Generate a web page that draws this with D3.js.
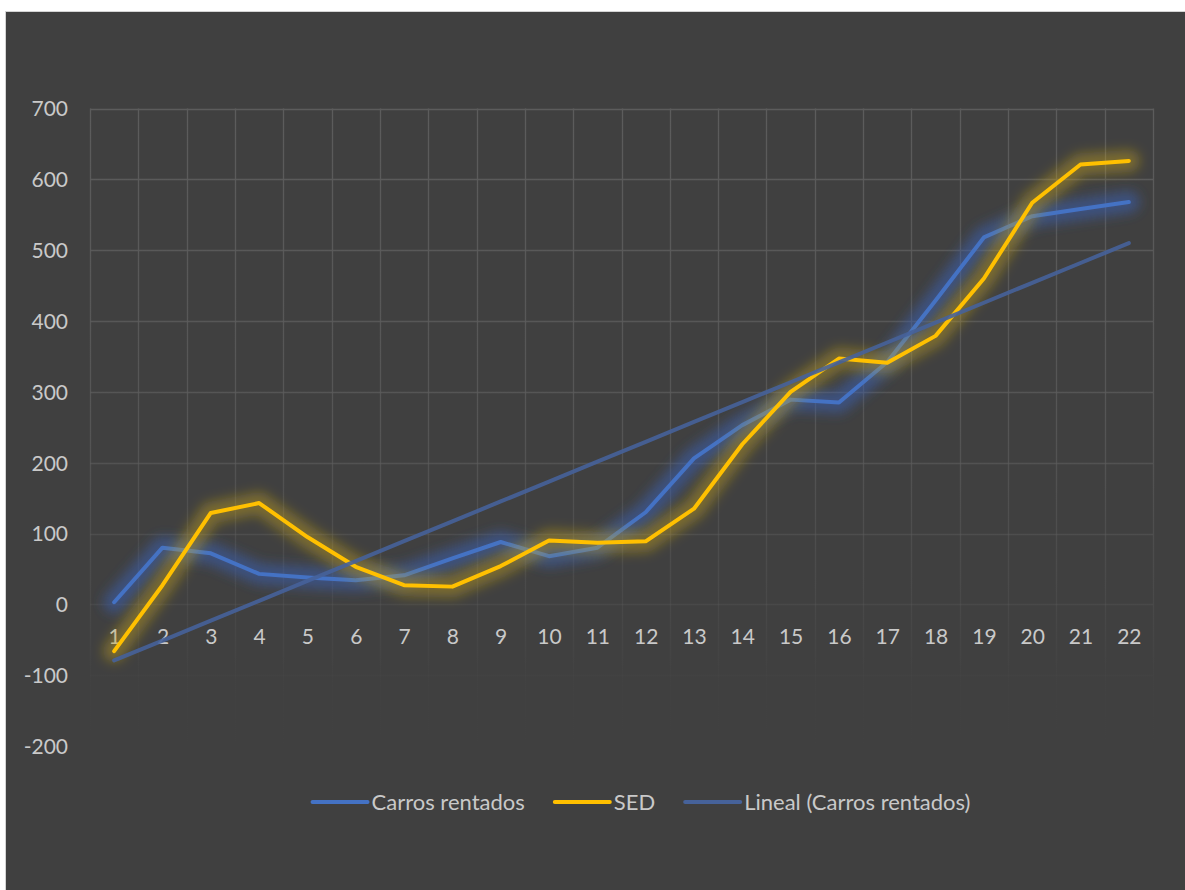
<!DOCTYPE html>
<html>
<head>
<meta charset="utf-8">
<script src="https://cdn.jsdelivr.net/npm/d3@7"></script>
<style>
  html, body { margin: 0; padding: 0; background: #ffffff; }
  svg { display: block; }
</style>
</head>
<body>
<svg id="chart" width="1185" height="890"></svg>
<script>
// ---- Data ----
const categories = ["1","2","3","4","5","6","7","8","9","10","11","12","13","14","15","16","17","18","19","20","21","22"];
const carrosRentados = [3, 80, 72, 43, 38, 34, 41, 65, 88, 68, 80, 130, 206, 253, 289, 285, 342, 429, 518, 548, 558, 568];
const sed = [-66, 27, 129, 143, 95, 53, 27, 25, 54, 90, 87, 89, 135, 226, 300, 347, 341, 379, 460, 567, 621, 626];
const yTicks = [-200, -100, 0, 100, 200, 300, 400, 500, 600, 700];
const seriesNames = ["Carros rentados", "SED", "Lineal (Carros rentados)"];

// Linear trendline (least squares on Carros rentados, as Excel does)
const xs = categories.map((c, i) => i + 1);
const mx = d3.mean(xs), my = d3.mean(carrosRentados);
const slope = d3.sum(xs, (x, i) => (x - mx) * (carrosRentados[i] - my)) / d3.sum(xs, x => (x - mx) * (x - mx));
const intercept = my - slope * mx;
const trend = xs.map(x => intercept + slope * x);

// ---- Layout ----
const svg = d3.select("#chart");
const W = 1185, H = 890;
const plot = { left: 90, right: 1153, top: 108.5, bottom: 746 };
const FONT = "Lato, 'Open Sans', sans-serif";
const TEXT = "#c9c9c9";

const x = d3.scalePoint().domain(categories).range([plot.left, plot.right]).padding(0.5);
const xb = d3.scaleBand().domain(categories).range([plot.left, plot.right]).padding(0);
const y = d3.scaleLinear().domain([-200, 700]).range([plot.bottom, plot.top]);

const defs = svg.append("defs");
const grad = defs.append("linearGradient").attr("id", "gridGrad")
  .attr("gradientUnits", "userSpaceOnUse")
  .attr("x1", 0).attr("x2", 0).attr("y1", plot.top).attr("y2", plot.bottom);
grad.append("stop").attr("offset", "0%").attr("stop-color", "#5c5c5c").attr("stop-opacity", 1);
grad.append("stop").attr("offset", "50%").attr("stop-color", "#5c5c5c").attr("stop-opacity", 0.75);
grad.append("stop").attr("offset", "78%").attr("stop-color", "#5c5c5c").attr("stop-opacity", 0.3);
grad.append("stop").attr("offset", "90%").attr("stop-color", "#5c5c5c").attr("stop-opacity", 0.05);
grad.append("stop").attr("offset", "100%").attr("stop-color", "#5c5c5c").attr("stop-opacity", 0);

const glow = defs.append("filter").attr("id", "glow")
  .attr("x", "-20%").attr("y", "-20%").attr("width", "140%").attr("height", "140%");
glow.append("feGaussianBlur").attr("stdDeviation", 6);

// Background
svg.append("rect").attr("x", 0).attr("y", 0).attr("width", W).attr("height", H).attr("fill", "#ffffff");
svg.append("rect").attr("x", 5.5).attr("y", 11.5).attr("width", W + 10).attr("height", H + 10)
  .attr("fill", "#404040").attr("stroke", "#d4d4d4").attr("stroke-width", 1);

// Gridlines
const gridG = svg.append("g").attr("stroke", "url(#gridGrad)").attr("stroke-width", 1.3);
gridG.selectAll("line.h").data(yTicks).join("line").attr("class", "h")
  .attr("x1", plot.left).attr("x2", plot.right)
  .attr("y1", d => Math.round(y(d)) + 0.5).attr("y2", d => Math.round(y(d)) + 0.5);
const vBounds = categories.map(c => xb(c)).concat([plot.right]);
gridG.selectAll("line.v").data(vBounds).join("line").attr("class", "v")
  .attr("x1", d => Math.round(d) + 0.5).attr("x2", d => Math.round(d) + 0.5)
  .attr("y1", plot.top).attr("y2", plot.bottom);

// Y axis labels
const yAxis = d3.axisLeft(y).tickValues(yTicks).tickSize(0).tickPadding(0).tickFormat(d => String(d));
const yG = svg.append("g").attr("transform", `translate(68,0)`).call(yAxis);
yG.select(".domain").remove();
yG.selectAll("text").attr("fill", TEXT).style("font-family", FONT).style("font-size", "21px")
  .attr("dy", "0.35em");

// X axis labels (next to axis at y=0)
const xAxis = d3.axisBottom(x).tickSize(0).tickPadding(0);
const xG = svg.append("g").attr("transform", `translate(0,${y(0) + 24})`).call(xAxis);
xG.select(".domain").remove();
xG.selectAll("text").attr("fill", TEXT).style("font-family", FONT).style("font-size", "21px")
  .attr("dy", "0.35em").attr("y", 8);

// Lines
const line = d3.line().x((d, i) => x(categories[i])).y(d => y(d));

function drawSeries(values, color, glowColor, glowOpacity) {
  const g = svg.append("g");
  g.append("path").attr("d", line(values)).attr("fill", "none")
    .attr("stroke", glowColor).attr("stroke-opacity", glowOpacity)
    .attr("stroke-width", 22).attr("stroke-linejoin", "round").attr("stroke-linecap", "round")
    .attr("filter", "url(#glow)");
  g.append("path").attr("d", line(values)).attr("fill", "none")
    .attr("stroke", color).attr("stroke-width", 4)
    .attr("stroke-linejoin", "round").attr("stroke-linecap", "round");
}

drawSeries(carrosRentados, "#4472C4", "#3a5fb0", 0.55);
drawSeries(sed, "#FFC000", "#c8a41a", 0.42);
svg.append("path").attr("d", line(trend)).attr("fill", "none")
  .attr("stroke", "#46629a").attr("stroke-opacity", 0.9).attr("stroke-width", 4)
  .attr("stroke-linecap", "round");

// Legend
const legendColors = ["#4472C4", "#FFC000", "#46629a"];
const legendY = 802;
const legendG = svg.append("g");
const items = legendG.selectAll("g").data(seriesNames).join("g");
items.append("line").attr("x1", 0).attr("x2", 55).attr("y1", 0).attr("y2", 0)
  .attr("stroke", (d, i) => legendColors[i]).attr("stroke-width", 4).attr("stroke-linecap", "round");
items.append("text").attr("x", 59).attr("y", 0).attr("dy", "0.35em")
  .attr("fill", TEXT).style("font-family", FONT).style("font-size", "22px").text(d => d);
let widths = [];
items.each(function () { widths.push(59 + this.querySelector("text").getComputedTextLength()); });
const gap = 30;
const total = d3.sum(widths) + gap * (widths.length - 1);
let cx = 641.5 - total / 2;
items.attr("transform", (d, i) => {
  const t = `translate(${cx},${legendY})`;
  cx += widths[i] + gap;
  return t;
});
</script>
</body>
</html>
